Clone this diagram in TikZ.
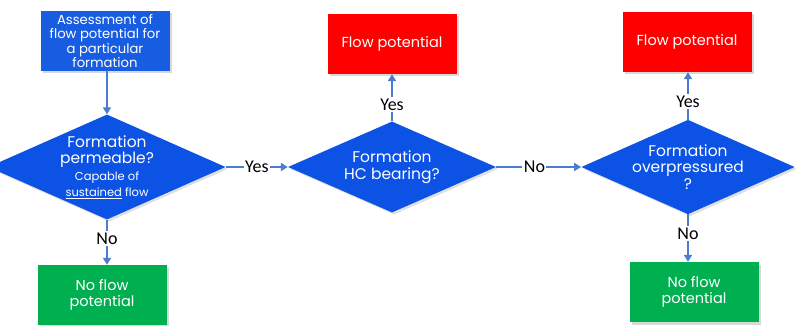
\documentclass[tikz,border=0pt]{standalone}
\usepackage{fontspec}
\setmainfont{Poppins}
\newfontfamily\lblfont{Carlito}
\usetikzlibrary{arrows.meta,positioning,shapes.geometric,shadows}
\definecolor{diablue}{RGB}{12,82,228}
\definecolor{boxblue}{RGB}{24,92,226}
\definecolor{linkblue}{RGB}{74,124,210}
\definecolor{okgreen}{RGB}{0,176,80}
\newcommand{\smalltxt}{\fontsize{11.5}{12}\selectfont}

\begin{document}
\begin{tikzpicture}[
    x=1pt, y=-1pt,
    font=\fontsize{13.2}{14.5}\selectfont,
    box/.style={text=white, align=center, minimum width=129pt, minimum height=60pt, inner sep=1pt,
      drop shadow={shadow xshift=2.5pt, shadow yshift=-2.5pt, fill=black!30}},
    resultbox/.style={box, font=\fontsize{14.5}{16}\selectfont},
    decision/.style={diamond, fill=diablue, text=white, align=center, aspect=2.26, inner sep=0pt,
      minimum width=208pt, minimum height=91pt, font=\fontsize{15.5}{16.5}\selectfont,
      drop shadow={shadow xshift=2pt, shadow yshift=-2pt, fill=black!25}},
    arrow/.style={-{Triangle[length=7pt, width=8pt]}, line width=2.4pt, draw=linkblue},
    lbl/.style={fill=white, text=black, inner sep=1.5pt, font=\lblfont\fontsize{18}{20}\selectfont}
  ]
  \useasboundingbox (0,0) rectangle (796,326);

  \node[box, fill=boxblue] (assess) at (105,41) {Assessment of\\flow potential for\\a particular\\formation};
  \node[decision] (perm) at (107,167) {Formation\\permeable?\\{\smalltxt Capable of}\\{\smalltxt \underline{sustained} flow}};
  \node[decision] (hc) at (392,167) {Formation\\HC bearing?};
  \node[decision] (over) at (688,167) {Formation\\overpressured\\?};
  \node[resultbox, fill=red] (flow1) at (392,44) {Flow potential};
  \node[resultbox, fill=red] (flow2) at (687,42) {Flow potential};
  \node[resultbox, fill=okgreen] (noflow1) at (102,295) {No flow\\potential};
  \node[resultbox, fill=okgreen] (noflow2) at (694,292) {No flow\\potential};

  \draw[arrow] (assess.south -| perm.north) -- (perm.north);
  \draw[arrow] (perm.east) -- node[lbl] {Yes} (hc.west);
  \draw[arrow] (hc.east) -- node[lbl, pos=0.45] {No} (over.west);
  \draw[arrow] (hc.north) -- node[lbl, pos=0.35] {Yes} (flow1.south);
  \draw[arrow] (over.north) -- node[lbl, pos=0.38] {Yes} (over.north |- flow2.south);
  \draw[arrow] (perm.south) -- node[lbl, pos=0.42] {No} (perm.south |- noflow1.north);
  \draw[arrow] (over.south) -- node[lbl, pos=0.4] {No} (over.south |- noflow2.north);
\end{tikzpicture}
\end{document}
